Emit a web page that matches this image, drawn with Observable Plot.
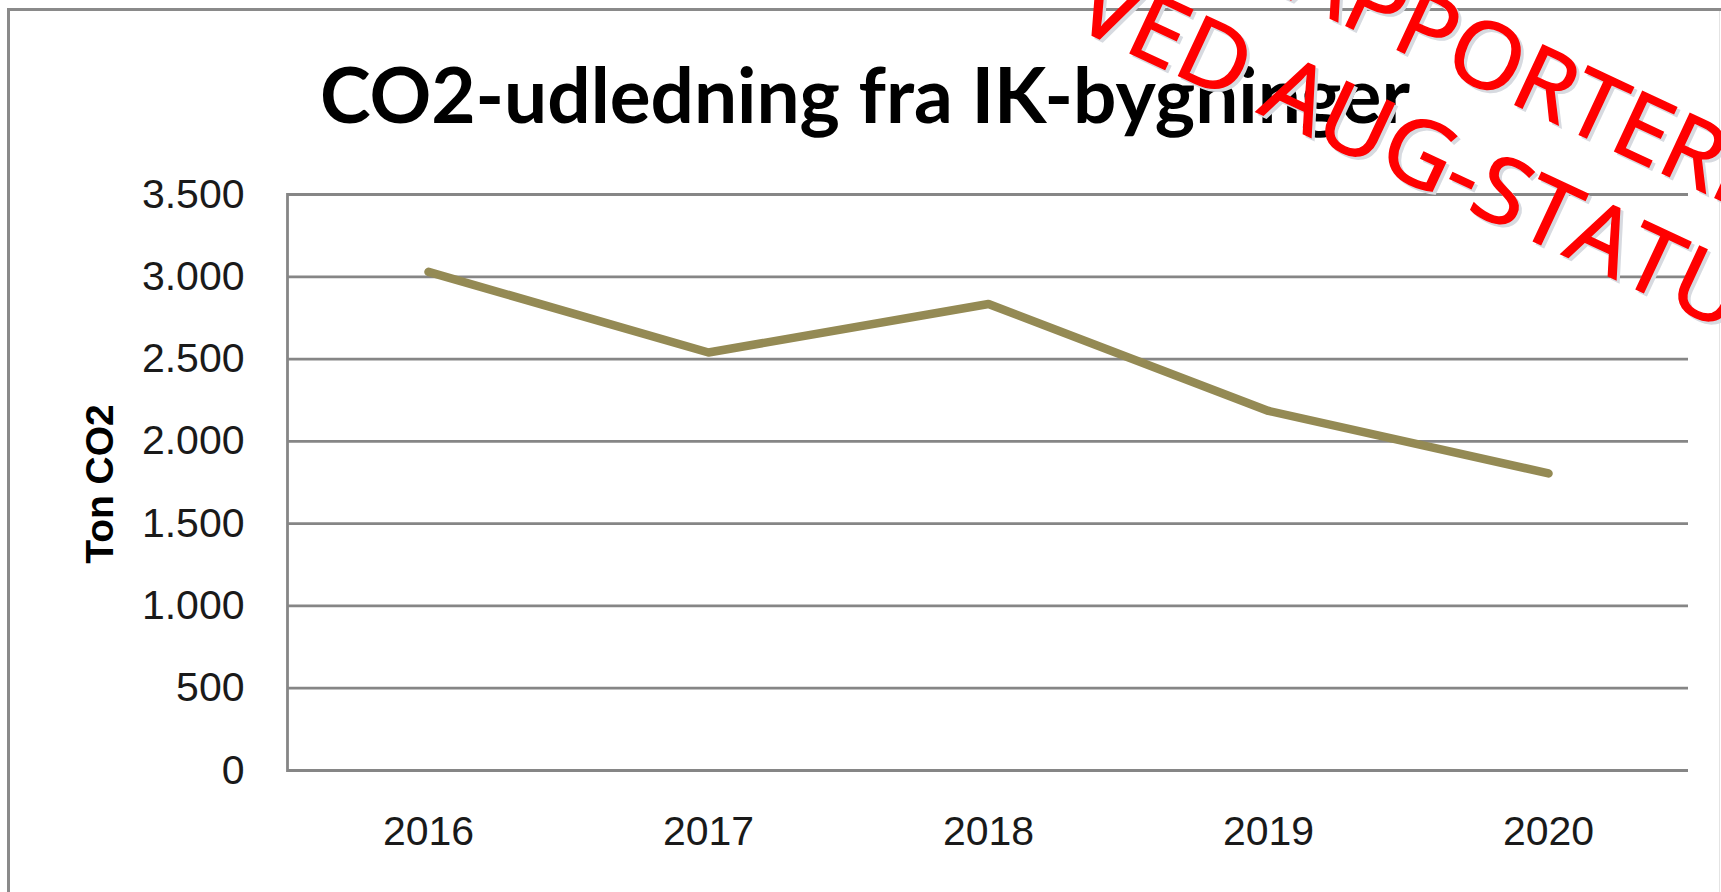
<!DOCTYPE html>
<html><head><meta charset="utf-8">
<script src="https://cdn.jsdelivr.net/npm/d3@7"></script>
<script src="https://cdn.jsdelivr.net/npm/@observablehq/plot@0.6"></script>
<style>
html,body{margin:0;padding:0;background:#fff;overflow:hidden;}
#wrap{position:relative;width:1721px;height:892px;overflow:hidden;background:#fff;}
#frame{position:absolute;left:7px;top:8px;width:1800px;height:1000px;border-left:3px solid #8a8a8a;border-top:3px solid #8a8a8a;}
#rightedge{position:absolute;left:1719px;top:11px;width:1px;height:900px;background:#e4e4e4;}
#chart,#overlay{position:absolute;left:0;top:0;}
</style></head><body>
<div id="wrap"><div id="frame"></div><div id="rightedge"></div><div id="chart"></div><svg id="overlay" width="1721" height="892"></svg></div>
<script>
const title = "CO2-udledning fra IK-bygninger";
const yLabel = "Ton CO2";
const years = ["2016", "2017", "2018", "2019", "2020"];
const emissions = [3030, 2540, 2835, 2185, 1805];
const yTicks = [0, 500, 1000, 1500, 2000, 2500, 3000, 3500];
const stampLines = ["RAPPORTERES", "VED AUG-STATUS"];

const data = years.map((year, i) => ({year, value: emissions[i]}));
const fmt = d3.formatLocale({decimal: ",", thousands: ".", grouping: [3], currency: ["", " kr."]}).format(",d");

const chart = Plot.plot({
  width: 1721, height: 892,
  marginLeft: 287, marginRight: 33, marginTop: 194, marginBottom: 122,
  style: {fontFamily: "'Liberation Sans', Arial, sans-serif", fontSize: "41px", color: "#1a1a1a", background: "transparent", overflow: "visible"},
  x: {type: "point", domain: years, padding: 0.5},
  y: {domain: [0, 3500]},
  marks: [
    Plot.gridY(yTicks, {stroke: "#868686", strokeOpacity: 1, strokeWidth: 2.8}),
    Plot.frame({anchor: "left", stroke: "#868686", strokeWidth: 2.8}),
    Plot.ruleY([0], {stroke: "#868686", strokeWidth: 2.8}),
    Plot.axisY(yTicks, {tickSize: 0, tickPadding: 43, tickFormat: fmt, label: null}),
    Plot.axisX({tickSize: 0, tickPadding: 45, label: null}),
    Plot.line(data, {x: "year", y: "value", stroke: "#948A54", strokeWidth: 8.5, strokeLinecap: "round", strokeLinejoin: "round"})
  ]
});
document.getElementById("chart").appendChild(chart);

const svg = d3.select("#overlay");
svg.append("text")
  .attr("x", 865).attr("y", 123).attr("text-anchor", "middle")
  .attr("font-family", "Lato, 'Open Sans', sans-serif").attr("font-weight", 700).attr("font-size", 76)
  .attr("textLength", 1090).attr("lengthAdjust", "spacingAndGlyphs").attr("fill", "#000")
  .text(title);
svg.append("text")
  .attr("transform", "translate(113,484) rotate(-90)").attr("text-anchor", "middle")
  .attr("font-family", "'Liberation Sans', Arial, sans-serif").attr("font-weight", 700).attr("font-size", 39)
  .attr("fill", "#000")
  .text(yLabel);

const stampPlace = [{x: 1231, y: -28, len: 629}, {x: 1070, y: 25, len: 778}];
[{dx: 3, dy: 3, fill: "#d7dae0"}, {dx: 0, dy: 0, fill: "#ff0000"}].forEach(layer => {
  const g = svg.append("g").attr("transform", `translate(${layer.dx},${layer.dy})`);
  stampLines.forEach((t, i) => {
    const p = stampPlace[i];
    g.append("text")
      .attr("transform", `translate(${p.x},${p.y}) rotate(25)`)
      .attr("font-family", "'Open Sans', sans-serif").attr("font-size", 92)
      .attr("textLength", p.len).attr("lengthAdjust", "spacingAndGlyphs")
      .attr("fill", layer.fill).attr("stroke", layer.fill).attr("stroke-width", 1.5)
      .text(t);
  });
});
</script>
</body></html>
